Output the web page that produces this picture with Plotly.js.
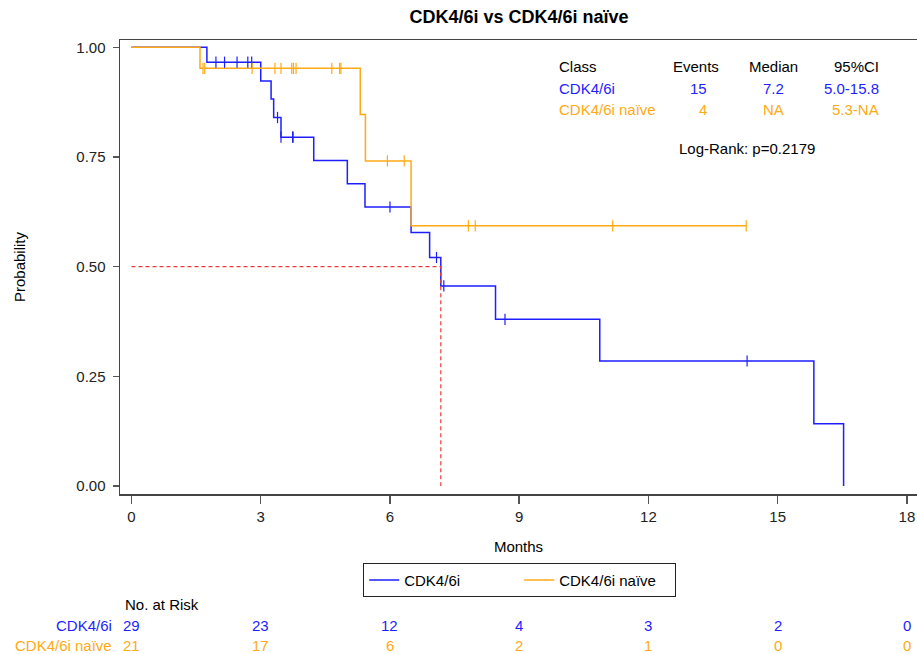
<!DOCTYPE html>
<html><head><meta charset="utf-8">
<script src="https://cdn.plot.ly/plotly-3.0.1.min.js"></script>
<style>html,body{margin:0;padding:0;background:#fff;overflow:hidden}</style>
</head><body><div id="chart" style="width:917px;height:654px"></div>
<script>
// ---------- data ----------
const groupNames = ['CDK4/6i', 'CDK4/6i naïve'];
const inhibTimes = [0, 1.75, 3.00, 3.24, 3.30, 3.47, 4.23, 5.01, 5.42, 6.49, 6.92, 7.18, 8.45, 10.87, 15.84, 16.53];
const inhibSurv  = [1, 0.966, 0.923, 0.882, 0.840, 0.795, 0.742, 0.689, 0.636, 0.578, 0.521, 0.456, 0.380, 0.285, 0.142, 0];
const inhibCensor = [1.96, 2.16, 2.45, 2.70, 2.79, 3.39, 3.47, 3.74, 3.75, 6.00, 7.08, 7.25, 8.67, 14.29];
const naiveTimes = [0, 1.59, 5.31, 5.43, 6.49, 14.27];
const naiveSurv  = [1, 0.952, 0.847, 0.741, 0.593, 0.593];
const naiveCensor = [1.66, 1.70, 2.80, 3.33, 3.47, 3.72, 3.76, 3.82, 4.65, 4.83, 4.86, 5.94, 6.33, 7.82, 7.98, 11.17, 14.27];
const medianTime = 7.18;
const medianProb = 0.5;
const xTicks = [0, 3, 6, 9, 12, 15, 18];
const yTicks = [0, 0.25, 0.5, 0.75, 1.0];
const yTickText = ['0.00', '0.25', '0.50', '0.75', '1.00'];
const riskInhib = [29, 23, 12, 4, 3, 2, 0];
const riskNaive = [21, 17, 6, 2, 1, 0, 0];
const statsHeader = ['Class', 'Events', 'Median', '95%CI'];
const statsInhib  = ['CDK4/6i', '15', '7.2', '5.0-15.8'];
const statsNaive  = ['CDK4/6i naïve', '4', 'NA', '5.3-NA'];
const logRankText = 'Log-Rank: p=0.2179';

// ---------- styling ----------
const BLUE = 'rgb(30,30,255)';
const ORANGE = 'rgb(255,170,20)';
const FONT = 'Liberation Sans, Arial, sans-serif';
const W = 917, H = 654;
const M = {l: 120, r: 0, t: 40, b: 160};
const PW = W - M.l - M.r, PH = H - M.t - M.b;
const px = v => (v - M.l) / PW;          // pixel -> paper x
const py = v => (M.t + PH - v) / PH;     // pixel -> paper y

function survAt(times, surv, t) {
  let s = surv[0];
  for (let i = 0; i < times.length; i++) if (times[i] <= t) s = surv[i];
  return s;
}

const traces = [
  {x: inhibTimes, y: inhibSurv, type: 'scatter', mode: 'lines', line: {shape: 'hv', color: BLUE, width: 1.5},
   name: groupNames[0], hoverinfo: 'skip'},
  {x: naiveTimes, y: naiveSurv, type: 'scatter', mode: 'lines', line: {shape: 'hv', color: ORANGE, width: 1.5},
   name: groupNames[1], hoverinfo: 'skip'},
  {x: inhibCensor, y: inhibCensor.map(t => survAt(inhibTimes, inhibSurv, t)), type: 'scatter', mode: 'markers',
   marker: {symbol: 'line-ns', size: 8, line: {color: BLUE, width: 1.2}}, showlegend: false, hoverinfo: 'skip'},
  {x: naiveCensor, y: naiveCensor.map(t => survAt(naiveTimes, naiveSurv, t)), type: 'scatter', mode: 'markers',
   marker: {symbol: 'line-ns', size: 8, line: {color: ORANGE, width: 1.2}}, showlegend: false, hoverinfo: 'skip'},
  {x: [0, medianTime, medianTime], y: [medianProb, medianProb, 0], type: 'scatter', mode: 'lines',
   line: {color: 'rgb(235,60,60)', width: 1.2, dash: '4px,3px'}, showlegend: false, hoverinfo: 'skip'}
];

const ann = [];
function txt(text, x, y, anchor, color, xref) {
  ann.push({text: text, x: x, y: y, xref: xref || 'paper', yref: 'paper', xanchor: anchor, yanchor: 'middle',
            showarrow: false, font: {family: FONT, size: 15, color: color}});
}
// stats block
const rowsY = [66, 88, 110];
const rowColors = ['#000', BLUE, ORANGE];
[statsHeader, statsInhib, statsNaive].forEach((row, i) => {
  txt(row[0], px(557), py(rowsY[i]), 'left', rowColors[i]);
  if (i === 0) txt(row[1], px(696), py(rowsY[i]), 'center', rowColors[i]);
  else txt(row[1], px(709), py(rowsY[i]), 'right', rowColors[i]);
  txt(row[2], px(773), py(rowsY[i]), 'center', rowColors[i]);
  txt(row[3], px(881), py(rowsY[i]), 'right', rowColors[i]);
});
txt(logRankText, px(677), py(148), 'left', '#000');
// at-risk table
txt('No. at Risk', px(123), py(604), 'left', '#000');
txt(groupNames[0], px(114), py(625), 'right', BLUE);
txt(groupNames[1], px(114), py(645), 'right', ORANGE);
xTicks.forEach((t, i) => {
  txt(String(riskInhib[i]), t, py(625), 'center', BLUE, 'x');
  txt(String(riskNaive[i]), t, py(645), 'center', ORANGE, 'x');
});

const axisCommon = {
  showgrid: false, zeroline: false, showline: true, linecolor: '#444', linewidth: 1.5,
  ticks: 'outside', tickcolor: '#555', tickwidth: 1.5,
  tickfont: {family: FONT, size: 15, color: '#222'}
};

const layout = {
  width: W, height: H, margin: M, paper_bgcolor: '#fff', plot_bgcolor: '#fff',
  font: {family: FONT, size: 15, color: '#000'},
  title: {text: '<b>CDK4/6i vs CDK4/6i naïve</b>', x: 519 / W, xanchor: 'center', xref: 'container',
          y: 1 - 17 / H, yanchor: 'middle', yref: 'container', font: {family: FONT, size: 18, color: '#000'}},
  xaxis: Object.assign({}, axisCommon, {range: [-0.267, 18.234], tickvals: xTicks, ticklen: 8, mirror: true,
          title: {text: 'Months', font: {family: FONT, size: 15, color: '#000'}, standoff: 18}}),
  yaxis: Object.assign({}, axisCommon, {range: [-0.0182, 1.0166], tickvals: yTicks, ticktext: yTickText, ticklen: 6,
          ticklabelstandoff: 4,
          title: {text: 'Probability', font: {family: FONT, size: 15, color: '#000'}, standoff: 47}}),
  showlegend: true,
  legend: {orientation: 'h', x: px(363), xanchor: 'left', y: py(580), yanchor: 'middle',
           bordercolor: '#222', borderwidth: 1.2, font: {family: FONT, size: 15, color: '#000'},
           entrywidth: 110, entrywidthmode: 'pixels', itemclick: false},
  annotations: ann
};

Plotly.newPlot('chart', traces, layout, {displayModeBar: false, staticPlot: true});
</script></body></html>
